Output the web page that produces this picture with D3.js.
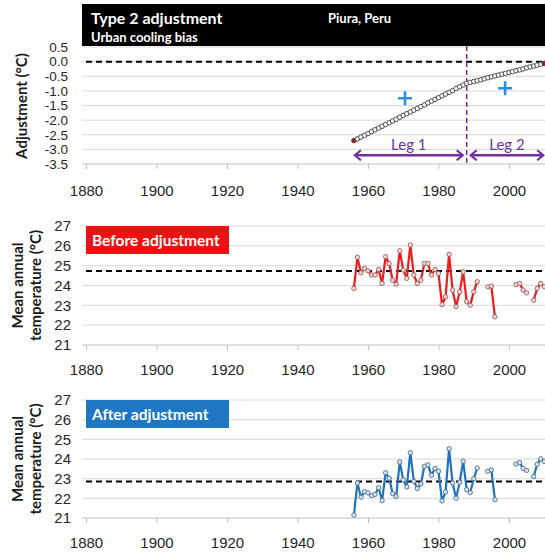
<!DOCTYPE html>
<html>
<head>
<meta charset="utf-8">
<script src="https://cdn.jsdelivr.net/npm/d3@7/dist/d3.min.js"></script>
<style>
  html, body { margin: 0; padding: 0; background: #fff; }
  svg { display: block; font-family: Lato, "Open Sans", sans-serif; }
</style>
</head>
<body>
<svg id="chart" width="545" height="554"></svg>
<script>
// Piura, Peru — Type 2 adjustment (urban cooling bias)
const years = d3.range(1956, 2011);

// Adjustment applied to each year (°C), two linear legs split at 1988
const adjustment = [
  -2.70, -2.64, -2.58, -2.52, -2.46, -2.39, -2.33, -2.27, -2.21, -2.15,
  -2.09, -2.03, -1.97, -1.90, -1.84, -1.78, -1.72, -1.66, -1.60, -1.54,
  -1.48, -1.41, -1.35, -1.29, -1.23, -1.17, -1.11, -1.05, -0.99, -0.92,
  -0.86, -0.80, -0.74,
  -0.71, -0.68, -0.65, -0.62, -0.59, -0.55, -0.52, -0.49, -0.46, -0.43,
  -0.40, -0.37, -0.34, -0.31, -0.28, -0.25, -0.21, -0.18, -0.15, -0.12,
  -0.09, -0.06
];

// Mean annual temperature before adjustment (°C); null = missing year
const beforeTemp = [
  23.85, 25.42, 24.64, 24.86, 24.74, 24.53, 24.53, 24.81, 24.10, 25.45,
  25.11, 24.27, 24.07, 25.75, 24.78, 24.36, 26.04, 24.53, 24.10, 24.27,
  25.11, 25.11, 24.53, 24.81, 24.61, 23.04, 23.43, 25.57, 23.77, 22.93,
  23.68, 24.69, 23.18, 23.01, 23.68, 24.19, null, null, 23.93, 23.97,
  22.42, null, null, null, null, null, 24.05, 24.10, 23.77, 23.63,
  null, 23.26, 23.85, 24.10, 23.94
];

// Mean annual temperature after adjustment (°C)
const afterTemp = [
  21.15, 22.78, 22.06, 22.34, 22.28, 22.14, 22.20, 22.54, 21.89, 23.30,
  23.02, 22.24, 22.10, 23.85, 22.94, 22.58, 24.32, 22.87, 22.50, 22.73,
  23.63, 23.70, 23.18, 23.52, 23.38, 21.87, 22.32, 24.52, 22.78, 22.01,
  22.82, 23.89, 22.44, 22.30, 23.00, 23.54, null, null, 23.38, 23.45,
  21.93, null, null, null, null, null, 23.74, 23.82, 23.52, 23.42,
  null, 23.11, 23.73, 24.01, 23.88
];

const xTicks = [1880, 1900, 1920, 1940, 1960, 1980, 2000];
const adjTicks = [0.5, 0.0, -0.5, -1.0, -1.5, -2.0, -2.5, -3.0, -3.5];
const tempTicks = [27, 26, 25, 24, 23, 22, 21];

const beforeMean = 24.73;
const afterMean = 22.85;
const breakYear = 1988;
const legs = [
  { label: "Leg 1", from: 1956, to: 1988 },
  { label: "Leg 2", from: 1988, to: 2010 }
];
const trendMarks = [
  { year: 1970.5, value: -1.25 },
  { year: 1998.9, value: -0.91 }
];

// ---------------------------------------------------------------
const svg = d3.select("#chart");
const W = 545;
const PURPLE = "#7030a0";

const x = d3.scaleLinear().domain([1880, 2020]).range([86, 86 + 140 * 3.525]);

function grid(g, y, ticks, axisVal) {
  g.selectAll("line.grid")
    .data(ticks.filter(t => t !== axisVal))
    .join("line")
    .attr("class", "grid")
    .attr("x1", 82).attr("x2", W)
    .attr("y1", d => y(d)).attr("y2", d => y(d))
    .attr("stroke", "#d9d9d9").attr("stroke-width", 1);
}

function yAxis(g, y, ticks, fmt, xEnd, size) {
  const ax = d3.axisLeft(y).tickValues(ticks).tickFormat(fmt).tickSize(0).tickPadding(0);
  const a = g.append("g").attr("transform", `translate(${xEnd},0)`).call(ax);
  a.select(".domain").remove();
  a.selectAll("text").attr("font-size", size).attr("fill", "#262626");
}

function xAxis(g, yPos, pad) {
  const ax = d3.axisBottom(x).tickValues(xTicks).tickFormat(d3.format("d"))
    .tickSize(5).tickSizeOuter(0).tickPadding(pad);
  const a = g.append("g").attr("transform", `translate(0,${yPos})`).call(ax);
  a.select(".domain").attr("stroke", "#bfbfbf").attr("d", `M82,0H${W}`);
  a.selectAll(".tick line").attr("stroke", "#bfbfbf");
  a.selectAll("text").attr("font-size", 15).attr("fill", "#262626");
}

function yTitle(lines, cx, cy) {
  const t = svg.append("text")
    .attr("transform", `translate(${cx},${cy}) rotate(-90)`)
    .attr("text-anchor", "middle")
    .attr("font-size", 15).attr("font-weight", "bold").attr("fill", "#1a1a1a");
  lines.forEach((s, i) => {
    t.append("tspan").attr("x", 0).attr("dy", i === 0 ? 0 : 18).text(s);
  });
}

// ---------------- Panel 1: adjustment ----------------
const y1 = d3.scaleLinear().domain([-3.5, 0.5]).range([164, 47]);
const p1 = svg.append("g");
grid(p1, y1, adjTicks, -3.5);
yAxis(p1, y1, adjTicks, d => d.toFixed(1), 68, 13.5);
xAxis(p1, y1(-3.5), 16);

// title bar
svg.append("rect").attr("x", 82).attr("y", 4).attr("width", W - 82).attr("height", 42).attr("fill", "#000");
svg.append("text").attr("x", 91).attr("y", 24).attr("fill", "#fff")
  .attr("font-size", 16).attr("font-weight", "bold").text("Type 2 adjustment");
svg.append("text").attr("x", 91).attr("y", 42).attr("fill", "#fff")
  .attr("font-size", 13).attr("font-weight", "bold").text("Urban cooling bias");
svg.append("text").attr("x", 328).attr("y", 23).attr("fill", "#fff")
  .attr("font-size", 13).attr("font-weight", "bold").text("Piura, Peru");

// zero reference
p1.append("line").attr("x1", 86).attr("x2", W)
  .attr("y1", y1(0)).attr("y2", y1(0))
  .attr("stroke", "#000").attr("stroke-width", 2).attr("stroke-dasharray", "6,4");

// break between legs
p1.append("line").attr("x1", x(breakYear)).attr("x2", x(breakYear))
  .attr("y1", 46).attr("y2", 166)
  .attr("stroke", PURPLE).attr("stroke-width", 1.5).attr("stroke-dasharray", "5,3");

// adjustment curve
const adjData = years.map((yr, i) => ({ yr, v: adjustment[i] }));
p1.append("path").datum(adjData)
  .attr("d", d3.line().x(d => x(d.yr)).y(d => y1(d.v)))
  .attr("fill", "none").attr("stroke", "#555").attr("stroke-width", 1);
p1.selectAll("circle.adj").data(adjData).join("circle")
  .attr("class", "adj")
  .attr("cx", d => x(d.yr)).attr("cy", d => y1(d.v)).attr("r", 2.3)
  .attr("fill", (d, i) => (i === 0 || i === adjData.length - 1) ? "#b01c1c" : "#fff")
  .attr("stroke", "#3a3a3a").attr("stroke-width", 0.9);

// positive trend marks
trendMarks.forEach(m => {
  const cx = x(m.year), cy = y1(m.value);
  p1.append("path").attr("d", `M${cx - 7},${cy}H${cx + 7}M${cx},${cy - 7}V${cy + 7}`)
    .attr("stroke", "#2f8fd6").attr("stroke-width", 2.6);
});

// leg arrows
const defs = svg.append("defs");
defs.append("marker").attr("id", "arrowHead")
  .attr("viewBox", "-10 -6 12 12").attr("refX", 0).attr("refY", 0)
  .attr("markerWidth", 12).attr("markerHeight", 12)
  .attr("markerUnits", "userSpaceOnUse")
  .attr("orient", "auto-start-reverse")
  .append("path").attr("d", "M-6,-5L0,0L-6,5")
  .attr("fill", "none").attr("stroke", PURPLE).attr("stroke-width", 2.2);
const legY = y1(-3.2);
legs.forEach(l => {
  const xa = x(l.from) + (l.from === breakYear ? 3 : 0);
  const xb = x(l.to) - (l.to === breakYear ? 3 : 0);
  p1.append("line").attr("x1", xa + 1).attr("x2", xb - 1)
    .attr("y1", legY).attr("y2", legY)
    .attr("stroke", PURPLE).attr("stroke-width", 2.4)
    .attr("marker-start", "url(#arrowHead)").attr("marker-end", "url(#arrowHead)");
  p1.append("text").attr("x", (xa + xb) / 2).attr("y", legY - 5)
    .attr("text-anchor", "middle").attr("font-size", 15).attr("fill", PURPLE).text(l.label);
});

yTitle(["Adjustment (°C)"], 27, 106);

// ---------------- Temperature panels ----------------
function tempPanel(cfg) {
  const y = d3.scaleLinear().domain([21, 27]).range([cfg.bottom, cfg.top]);
  const g = svg.append("g");
  grid(g, y, tempTicks, 21);
  yAxis(g, y, tempTicks, d3.format("d"), 71, 15);
  xAxis(g, y(21), cfg.pad);

  g.append("rect").attr("x", 86).attr("y", y(27)).attr("width", 143).attr("height", 28)
    .attr("fill", cfg.box);
  g.append("text").attr("x", 92).attr("y", y(27) + 20).attr("fill", "#fff")
    .attr("font-size", 15.5).attr("font-weight", "bold").text(cfg.label);

  g.append("line").attr("x1", 86).attr("x2", W)
    .attr("y1", y(cfg.mean)).attr("y2", y(cfg.mean))
    .attr("stroke", "#000").attr("stroke-width", 2).attr("stroke-dasharray", "6,4");

  const data = years.map((yr, i) => ({ yr, v: cfg.values[i] }));
  g.append("path").datum(data)
    .attr("d", d3.line().defined(d => d.v != null).x(d => x(d.yr)).y(d => y(d.v)))
    .attr("fill", "none").attr("stroke", cfg.line).attr("stroke-width", 2.2)
    .attr("stroke-linejoin", "round");
  g.selectAll("circle.pt").data(data.filter(d => d.v != null)).join("circle")
    .attr("class", "pt")
    .attr("cx", d => x(d.yr)).attr("cy", d => y(d.v)).attr("r", 2.2)
    .attr("fill", cfg.markFill).attr("stroke", cfg.markStroke).attr("stroke-width", 0.9);

  yTitle(["Mean annual", "temperature (°C)"], 23, (cfg.top + cfg.bottom) / 2);
}

tempPanel({ top: 226, bottom: 345, pad: 14, values: beforeTemp, mean: beforeMean,
  label: "Before adjustment", box: "#ee1111", line: "#ee1c1c",
  markFill: "#f7d6d6", markStroke: "#9a5a5a" });
tempPanel({ top: 400, bottom: 518, pad: 14, values: afterTemp, mean: afterMean,
  label: "After adjustment", box: "#1f77c4", line: "#1f73be",
  markFill: "#d6e4f2", markStroke: "#4d6d8f" });
</script>
</body>
</html>
